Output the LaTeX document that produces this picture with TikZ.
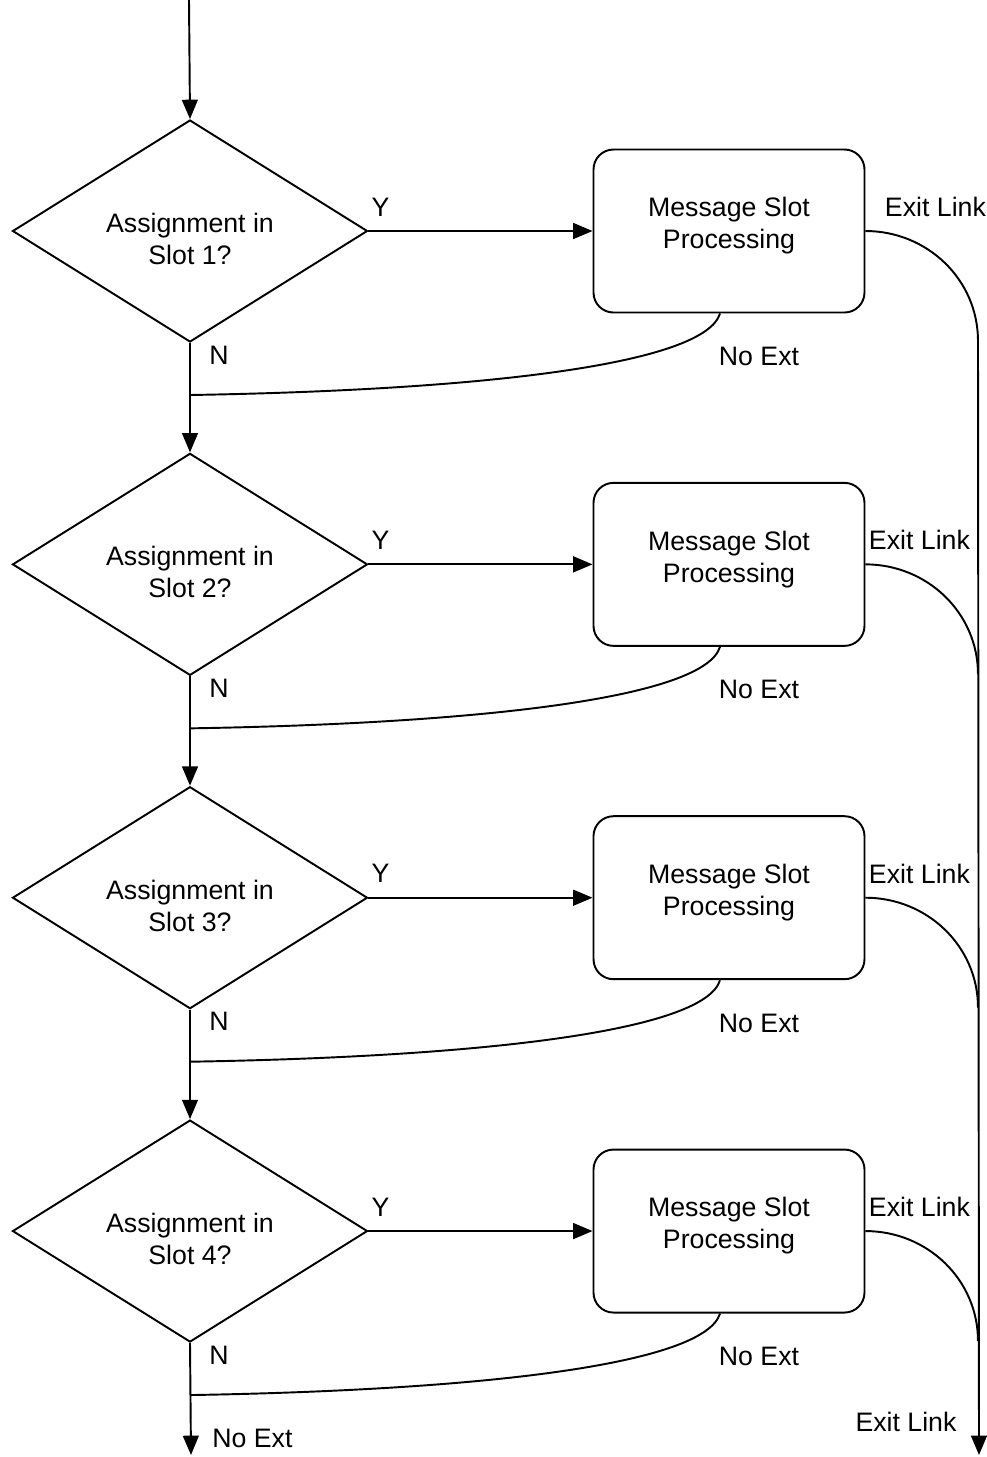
\documentclass[tikz,border=0pt]{standalone}
\usepackage{fontspec}
\setmainfont{Liberation Sans}
\usetikzlibrary{shapes.geometric,arrows.meta}
\tikzset{
  txt/.style={font=\fontsize{15.2}{18.2}\selectfont},
  decision/.style={diamond,draw,line width=1.1pt,minimum width=7.1cm,minimum height=4.44cm,inner sep=0pt},
  process/.style={rectangle,draw,line width=1.1pt,rounded corners=0.4cm,minimum width=5.42cm,minimum height=3.26cm},
  flow/.style={line width=1.1pt,-{Triangle[width=9pt,length=11pt]}},
  link/.style={line width=1.1pt},
  lbl/.style={txt,inner sep=0pt}
}
\begin{document}
\begin{tikzpicture}
  \useasboundingbox (0,0) rectangle (19.74,-29.14);
  \coordinate (in) at (3.78,0);
  \coordinate (out) at (19.58,-29.1);
  \coordinate (done) at (3.82,-29.1);
  \foreach \i/\ex in {1/1.4,2/1.08,3/1.08,4/1.08}{
    \pgfmathsetmacro\yy{-4.62-6.667*(\i-1)}
    \node[decision,label={[txt,align=center,yshift=-0.16cm]center:{Assignment in\\Slot \i?}}] (d\i) at (3.8,\yy) {};
    \node[process,label={[txt,align=center,yshift=0.1cm]center:{Message Slot\\Processing}}] (p\i) at (14.58,\yy) {};
    \coordinate (m\i) at (3.8,\yy-3.28);
    \coordinate (e\i) at (19.56,\yy-2.2);
    \draw[flow] (d\i.east) -- (p\i.west);
    \draw[link] ([xshift=-0.18cm]p\i.south) .. controls +(-0.3,-1.0) and +(6,0.1) .. (m\i);
    \draw[link] (p\i.east) to[out=0,in=90] (e\i);
    \node[lbl] (y\i) at ([shift={(0.24,0.48)}]d\i.east) {Y};
    \node[lbl] (n\i) at ([shift={(0.58,-0.24)}]d\i.south) {N};
    \node[lbl] (x\i) at ([shift={(0.6,-0.86)}]p\i.south) {No Ext};
    \node[lbl] (l\i) at ([shift={(\ex,0.48)}]p\i.east) {Exit Link};
  }
  \draw[flow] (in) -- (d1.north);
  \draw[flow] (d1.south) -- (d2.north);
  \draw[flow] (d2.south) -- (d3.north);
  \draw[flow] (d3.south) -- (d4.north);
  \draw[flow] (d4.south) -- (done);
  \draw[flow] (e1) -- (out);
  \node[lbl,anchor=west] (nx) at ([xshift=0.42cm,yshift=0.34cm]done) {No Ext};
  \node[lbl] (el) at (18.12,-28.44) {Exit Link};
\end{tikzpicture}
\end{document}
